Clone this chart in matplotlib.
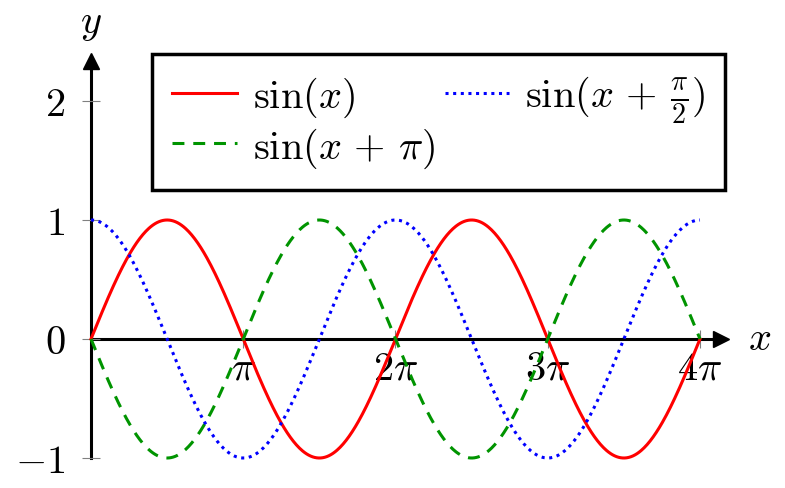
import numpy as np
import matplotlib.pyplot as plt

plt.rcParams['mathtext.fontset'] = 'cm'
plt.rcParams['font.family'] = 'serif'
plt.rcParams['font.serif'] = ['cmr10', 'DejaVu Serif']
plt.rcParams['axes.formatter.use_mathtext'] = True

# curves: sin(x + phase)
phases = [0, np.pi, np.pi / 2]
labels = [r'$\sin(x)$', r'$\sin(x\,+\,\pi)$', r'$\sin(x\,+\,\frac{\pi}{2})$']
colors = ['#ff0000', '#009400', '#0000ff']
styles = ['-', (0, (3.9, 2.9)), (0, (1.0, 1.5))]

xticks = [np.pi, 2 * np.pi, 3 * np.pi, 4 * np.pi]
xticklabels = [r'$\pi$', r'$2\pi$', r'$3\pi$', r'$4\pi$']
yticks = [-1, 0, 1, 2]
yticklabels = [r'$-1$', r'$0$', r'$1$', r'$2$']

W, H = 785, 489
fig = plt.figure(figsize=(W / 100, H / 100), dpi=100)
# pixel positions of the axes box
x0, x1 = 91, 721
y0, y1 = 459, 62
ax = fig.add_axes([x0 / W, 1 - y0 / H, (x1 - x0) / W, (y0 - y1) / H])

FS = 29

x = np.linspace(0, 4 * np.pi, 600)
lines = []
for ph, lab, c, ls in zip(phases, labels, colors, styles):
    ln, = ax.plot(x, np.sin(x + ph), color=c, ls=ls, lw=2.2, label=lab, clip_on=False)
    lines.append(ln)

ax.set_xlim(0, 4 * np.pi * (x1 - x0) / (700 - x0))
ax.set_ylim(-1, (y0 - y1) / 119 - 1)

for s in ['top', 'right']:
    ax.spines[s].set_visible(False)
ax.spines['left'].set_position(('data', 0))
ax.spines['bottom'].set_position(('data', 0))
ax.spines['left'].set_linewidth(2.2)
ax.spines['bottom'].set_linewidth(2.2)
ax.spines['left'].set_zorder(1)
ax.spines['bottom'].set_zorder(1)

# arrow heads
ax.plot(1, 0, '>', color='k', ms=11, transform=ax.get_yaxis_transform(), clip_on=False)
ax.plot(0, 1, '^', color='k', ms=11, transform=ax.get_xaxis_transform(), clip_on=False)

ax.set_xticks(xticks)
ax.set_xticklabels(xticklabels)
ax.set_yticks(yticks)
ax.set_yticklabels(yticklabels)
ax.tick_params(axis='both', direction='inout', length=13, width=0.8, color='#808080',
               labelsize=FS)
ax.tick_params(axis='x', pad=2)
ax.tick_params(axis='y', pad=12)

fig.text(760 / W, 1 - 340 / H, r'$x$', fontsize=FS, ha='center', va='center')
fig.text(91 / W, 1 - 25 / H, r'$y$', fontsize=FS, ha='center', va='center')

leg = fig.legend([lines[0], lines[1], lines[2]], [labels[0], labels[1], labels[2]],
                 ncol=2, loc='upper left', bbox_to_anchor=(152 / W, 1 - 55 / H),
                 borderaxespad=0, fontsize=FS, handlelength=1.6, handletextpad=0.4,
                 columnspacing=0.25, borderpad=0.5, labelspacing=0.15,
                 fancybox=False, framealpha=1, edgecolor='k')
leg.get_frame().set_linewidth(2.5)

fig.savefig('out.png', dpi=100)
